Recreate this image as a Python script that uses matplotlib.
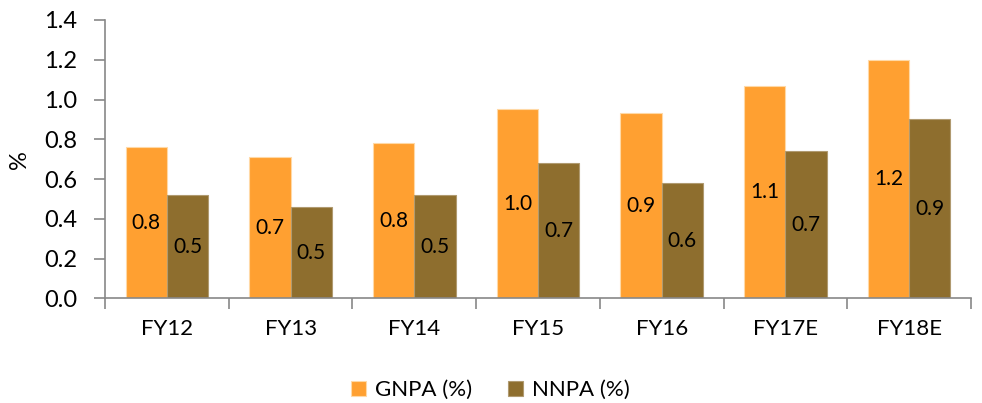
import matplotlib
matplotlib.use("Agg")
import matplotlib.pyplot as plt
import numpy as np
from decimal import Decimal, ROUND_HALF_UP

categories = ["FY12", "FY13", "FY14", "FY15", "FY16", "FY17E", "FY18E"]
gnpa = [0.76, 0.71, 0.78, 0.95, 0.93, 1.07, 1.20]
nnpa = [0.52, 0.46, 0.52, 0.68, 0.58, 0.74, 0.90]
yticks = [0.0, 0.2, 0.4, 0.6, 0.8, 1.0, 1.2, 1.4]

plt.rcParams['font.family'] = ['Lato', 'DejaVu Sans']

fig = plt.figure(figsize=(9.82, 4.03), dpi=100)
ax = fig.add_axes([105/982, 1-298.3/403, (971-105)/982, (298.3-20)/403])

c_g = "#FFA031"
c_n = "#8E6E2E"
x = np.arange(len(categories))
w = 1/3
b1 = ax.bar(x - w/2, gnpa, w, color=c_g, edgecolor="#FFD9A6", linewidth=0.8, label="GNPA (%)")
b2 = ax.bar(x + w/2, nnpa, w, color=c_n, edgecolor="#B09A70", linewidth=0.8, label="NNPA (%)")

def fmt(v):
    return str(Decimal(str(v)).quantize(Decimal("0.1"), rounding=ROUND_HALF_UP))

for rects, vals in ((b1, gnpa), (b2, nnpa)):
    for r, v in zip(rects, vals):
        ax.text(r.get_x() + r.get_width()/2, v/2, fmt(v), ha="center", va="center",
                fontsize=15, color="black")

ax.set_xlim(-0.5, len(categories) - 0.5)
ax.set_ylim(0, 1.4)
ax.set_yticks(yticks)
ax.set_yticklabels([f"{t:.1f}" for t in yticks], fontsize=17)
ax.set_xticks(x)
ax.set_xticklabels(categories, fontsize=16)
ax.set_xticks(np.arange(len(categories) + 1) - 0.5, minor=True)
ax.tick_params(axis="x", which="major", length=0, pad=15)
ax.tick_params(axis="x", which="minor", length=8, color="#888888", width=1.2, direction="out")
ax.tick_params(axis="y", length=8, color="#888888", width=1.2, direction="out", pad=12)

for s in ["top", "right"]:
    ax.spines[s].set_visible(False)
for s in ["left", "bottom"]:
    ax.spines[s].set_color("#888888")
    ax.spines[s].set_linewidth(1.2)

ax.set_ylabel("%", fontsize=17, labelpad=10)

ax.legend(loc="center", bbox_to_anchor=(0.445, -0.33), ncol=2, frameon=False,
          fontsize=16, handlelength=0.7, handleheight=0.7, handletextpad=0.4, columnspacing=1.6)

fig.savefig("out.png", dpi=100)
